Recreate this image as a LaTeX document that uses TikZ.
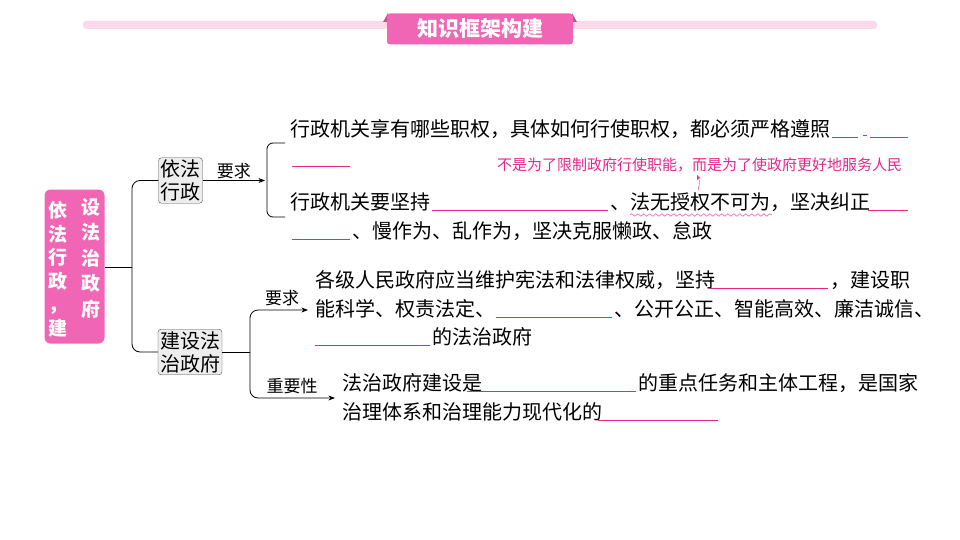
\documentclass[tikz,border=0pt]{standalone}
\usepackage{fontspec}
\setmainfont{Noto Sans CJK SC}
\usetikzlibrary{arrows.meta,decorations.pathmorphing}
\tikzset {>=Stealth}
\definecolor{rosa}{HTML}{F066B4}
\definecolor{rosalight}{HTML}{FAD9EA}
\definecolor{ink}{HTML}{E5268C}
\tikzset{
  txt/.style={anchor=base west,inner sep=0pt,font=\fontsize{20}{20}\selectfont},
  blank/.style={draw=ink,line width=1pt},
  gbox/.style={draw=black!70,fill=black!7,rounded corners=3pt,align=center,inner sep=2pt,font=\fontsize{20}{23}\selectfont},
  lbl/.style={inner sep=1pt,font=\fontsize{17}{17}\selectfont},
}

\begin{document}
\begin{tikzpicture}[x=1pt,y=-1pt]
\useasboundingbox (0,0) rectangle (960,540);

% Title bar
\fill[rosalight,rounded corners=3pt] (83,21) rectangle (877,29);
\fill[rosa!80!black] (383,22) -- (388,13) -- (388,22) -- cycle;
\fill[rosa!80!black] (577,22) -- (572,13) -- (572,22) -- cycle;
\node[fill=rosa,rounded corners=3pt,minimum width=186pt,minimum height=31pt,text=white,
  font=\bfseries\fontsize{21}{21}\selectfont] (title) at (480,29) {知识框架构建};

% Main box
\node[fill=rosa,rounded corners=6pt,minimum width=60pt,minimum height=154pt] (main) at (74.5,266.5) {};
\node[text=white,font=\bfseries\fontsize{19}{23.5}\selectfont,align=center,inner sep=0pt,anchor=north] (mainL) at (58,201) {依\\法\\行\\政\\，\\建};
\node[text=white,font=\bfseries\fontsize{19}{25.5}\selectfont,align=center,inner sep=0pt,anchor=north] (mainR) at (91,198) {设\\法\\治\\政\\府};

% Second level
\node[gbox] (yifa) at (180.5,180.5) {依法\\行政};
\node[gbox] (jianshe) at (190,352) {建设法\\治政府};
\coordinate (fork) at (132,267);
\draw[thick] (main.east |- fork) -- (fork);
\draw[thick,rounded corners=8pt] (yifa.west) -- (132,180.5) -- (132,352) -- (jianshe.west);

% Branch 1
\coordinate (req1) at (265,180.5);
\draw[thick,->] (yifa.east) -- node[lbl,above] {要求} (req1);
\draw[thick,rounded corners=6pt] (285,143) -- (267,143) -- (267,217) -- (285,217);

\node[txt] (a1) at (290,137) {行政机关享有哪些职权，具体如何行使职权，都必须严格遵照};
\draw[blank] (832,138) -- (858,138) (863,136) -- (867,136) (870,138) -- (908,138);
\draw[blank] (292,167) -- (350,167);
\node[anchor=base west,inner sep=0pt,text=ink,font=\fontsize{15}{15}\selectfont] (note) at (497,171) {不是为了限制政府行使职能，而是为了使政府更好地服务人民};
\node[txt] (a2) at (290,209) {行政机关要坚持};
\draw[blank] (432,210) -- (608,210);
\node[txt] (a3) at (610,209) {、法无授权不可为，坚决纠正};
\draw[blank] (868,210) -- (908,210);
\draw[ink,decorate,decoration={snake,amplitude=1.3pt,segment length=6pt}] (630,215) -- (772,215);
\coordinate (wav) at (698,190);
\draw[ink,thin,->] (wav) .. controls (700,182) .. (697,175);
\draw[blank] (292,239) -- (350,239);
\node[txt] (a4) at (352,238) {、慢作为、乱作为，坚决克服懒政、怠政};

% Branch 2
\coordinate (split) at (250,352);
\coordinate (req2) at (308,310);
\coordinate (imp) at (335,398);
\draw[thick] (jianshe.east) -- (split);
\draw[thick,rounded corners=8pt,->] (split) -- (250,310) -- (req2);
\draw[thick,rounded corners=8pt,->] (split) -- (250,398) -- (imp);
\node[lbl] (l2) at (282,298) {要求};
\node[lbl] (l3) at (292,386) {重要性};

\node[txt] (b1) at (315,287) {各级人民政府应当维护宪法和法律权威，坚持};
\draw[blank] (710,288) -- (828,288);
\node[txt] (b2) at (830,287) {，建设职};
\node[txt] (b3) at (315,316) {能科学、权责法定、};
\draw[blank] (496,317) -- (612,317);
\node[txt] (b4) at (614,316) {、公开公正、智能高效、廉洁诚信、};
\draw[blank] (315,345) -- (430,345);
\node[txt] (b5) at (432,344) {的法治政府};

\node[txt] (c1) at (342,390) {法治政府建设是};
\draw[blank] (467,391) -- (636,391);
\node[txt] (c2) at (638,390) {的重点任务和主体工程，是国家};
\node[txt] (c3) at (342,419) {治理体系和治理能力现代化的};
\draw[blank] (598,420) -- (718,420);
\end{tikzpicture}
\end{document}
